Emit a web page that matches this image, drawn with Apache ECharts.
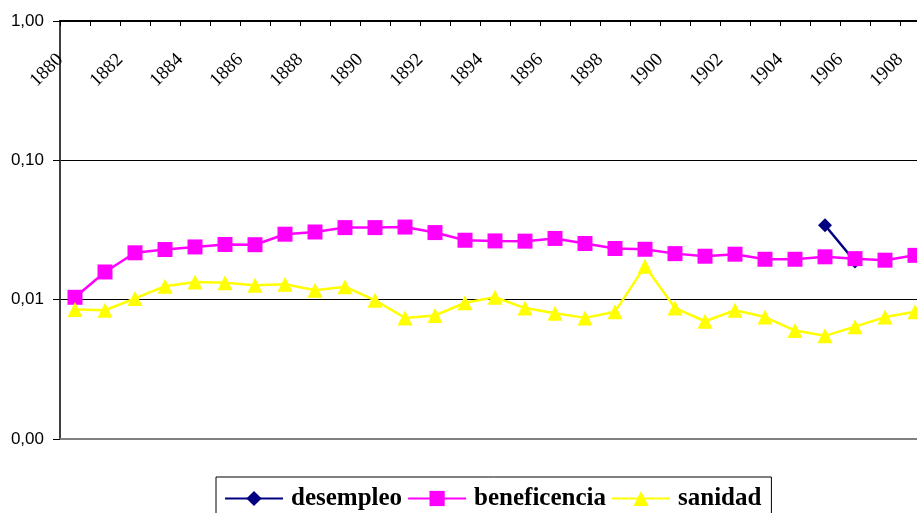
<!DOCTYPE html>
<html>
<head>
<meta charset="utf-8">
<script src="https://cdn.jsdelivr.net/npm/echarts@6/dist/echarts.min.js"></script>
<style>html,body{margin:0;padding:0;background:#fff;overflow:hidden;width:917px;height:513px}#c{width:930px;height:513px}</style>
</head>
<body>
<div id="c"></div>
<script>
var years = ['1880','1881','1882','1883','1884','1885','1886','1887','1888','1889','1890','1891','1892','1893','1894','1895','1896','1897','1898','1899','1900','1901','1902','1903','1904','1905','1906','1907','1908'];
var desempleo = [null,null,null,null,null,null,null,null,null,null,null,null,null,null,null,null,null,null,null,null,null,null,null,null,null,0.0342,0.0188,null,null];
var beneficencia = [0.0104,0.0158,0.0217,0.0229,0.0239,0.0249,0.0248,0.0295,0.0306,0.0329,0.0329,0.0332,0.0303,0.0267,0.0264,0.0263,0.0275,0.0253,0.0233,0.0230,0.0214,0.0205,0.0212,0.0195,0.0195,0.0203,0.0197,0.0192,0.0208];
var sanidad = [0.0085,0.0084,0.0102,0.0125,0.0134,0.0132,0.0127,0.0129,0.0117,0.0124,0.0099,0.0074,0.0077,0.0095,0.0104,0.0087,0.0080,0.0074,0.0082,0.0174,0.0087,0.0070,0.0084,0.0075,0.0060,0.0055,0.0064,0.0075,0.0082];
var yTicks = [0.001, 0.01, 0.1, 1];

var chart = echarts.init(document.getElementById('c'), null, {renderer:'canvas'});
chart.setOption({
  animation: false,
  grid: {left: 60, top: 21, right: 0, bottom: 74, containLabel: false},
  legend: {
    left: 216, top: 477,
    data: ['desempleo','beneficencia','sanidad'],
    borderColor: '#000', borderWidth: 1,
    padding: [9, 10, 10, 8],
    itemWidth: 58, itemHeight: 19, itemGap: 5,
    textStyle: {fontFamily: '"Liberation Serif", "Times New Roman", serif', fontWeight: 'bold', fontSize: 25, color: '#000', padding: [0, 0, 0, 3]}
  },
  xAxis: [{
    type: 'category', position: 'top', data: years, boundaryGap: true,
    axisLine: {show: true, lineStyle: {color: '#000', width: 2}},
    axisTick: {show: true, inside: true, interval: 0, length: 5, lineStyle: {color: '#000'}},
    axisLabel: {interval: 1, inside: true, rotate: -45, margin: 21, padding: [0, 21, 0, 0],
      fontFamily: '"Liberation Serif", "Times New Roman", serif', fontSize: 19, color: '#000'},
    splitLine: {show: false}
  }, {
    type: 'category', position: 'bottom', data: years, boundaryGap: true,
    axisLine: {show: true, onZero: false, lineStyle: {color: '#808080', width: 2}},
    axisTick: {show: false}, axisLabel: {show: false}, splitLine: {show: false}
  }],
  yAxis: {
    type: 'log', logBase: 10, min: yTicks[0], max: yTicks[yTicks.length - 1],
    axisLine: {show: true, lineStyle: {color: '#404040', width: 2}},
    axisTick: {show: true, length: 7, lineStyle: {color: '#000'}},
    axisLabel: {margin: 16, fontFamily: '"Liberation Sans", Arial, sans-serif', fontSize: 17, color: '#000',
      formatter: function (v) { return v.toFixed(2).replace('.', ','); }},
    splitLine: {show: true, lineStyle: {color: '#000', width: 1}}
  },
  series: [{
    name: 'desempleo', type: 'line', data: desempleo, connectNulls: false,
    symbol: 'diamond', symbolSize: 14, showAllSymbol: true,
    lineStyle: {color: '#000080', width: 2.5}, itemStyle: {color: '#000080'}
  }, {
    name: 'beneficencia', type: 'line', data: beneficencia,
    symbol: 'rect', symbolSize: 15, showAllSymbol: true,
    lineStyle: {color: '#FF00FF', width: 2.5}, itemStyle: {color: '#FF00FF'}
  }, {
    name: 'sanidad', type: 'line', data: sanidad,
    symbol: 'triangle', symbolSize: 15, showAllSymbol: true,
    lineStyle: {color: '#FFFF00', width: 2.5}, itemStyle: {color: '#FFFF00'}
  }]
});
</script>
</body>
</html>
